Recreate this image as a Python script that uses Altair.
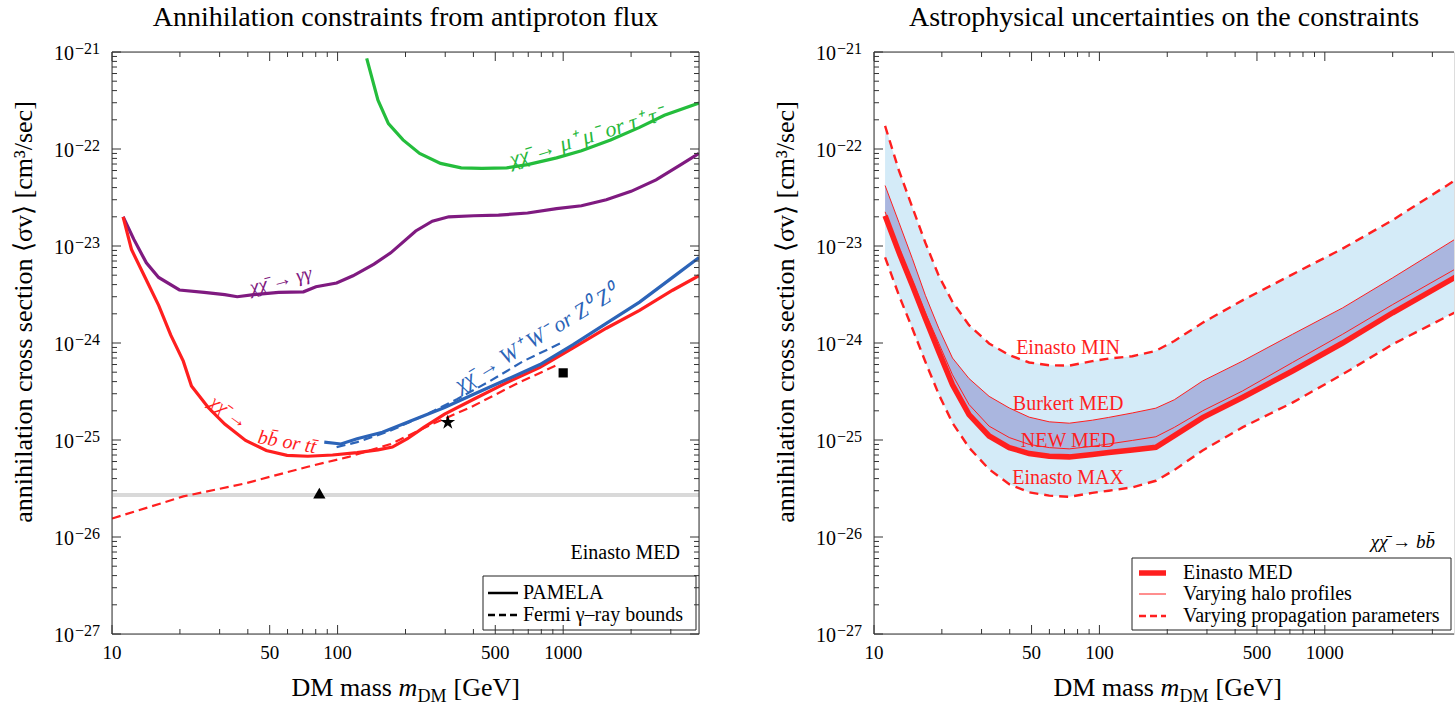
import altair as alt
import pandas as pd

FONT = "Liberation Serif"
FRAME = "#333333"
W_L, W_R, H = 587, 580, 582
XDOM_L = [10, 4000]
XDOM_R = [10, 3742]
YDOM = [1e-27, 1e-21]

# ---------------- tick positions / labels ----------------
x_major = [10, 50, 100, 500, 1000]
x_labels = ["10", "50", "100", "500", "1000"]
x_minor = [20, 30, 40, 60, 70, 80, 90, 200, 300, 400, 600, 700, 800, 900, 2000, 3000]
y_major = [1e-27, 1e-26, 1e-25, 1e-24, 1e-23, 1e-22, 1e-21]
y_exp = ["\u221227", "\u221226", "\u221225", "\u221224", "\u221223", "\u221222", "\u221221"]
y_minor = [k * 10.0 ** e for e in range(-27, -21) for k in range(2, 10)]

Y_TITLE = "annihilation cross section \u27e8\u03c3v\u27e9 [cm\u00b3/sec]"
TITLE_L = "Annihilation constraints from antiproton flux"
TITLE_R = "Astrophysical uncertainties on the constraints"

# ---------------- left panel: antiproton constraints ----------------
green_m = [134.6, 151, 168, 195, 231, 286, 353, 436, 562, 695, 935, 1205, 1622, 2180, 2810, 4000]
green_sv = [8.6e-22, 3.18e-22, 1.83e-22, 1.24e-22, 9.0e-23, 7.1e-23, 6.4e-23, 6.3e-23, 6.4e-23,
            6.9e-23, 8.1e-23, 9.6e-23, 1.24e-22, 1.67e-22, 2.23e-22, 2.98e-22]

purple_m = [11.2, 12.5, 14.2, 16.1, 19.9, 25.6, 31.6, 35.9, 42.5, 54.8, 70.6, 80.2, 99, 117, 145,
            172, 222, 263, 311, 401, 517, 695, 935, 1205, 1553, 2000, 2580, 3325, 4000]
purple_sv = [2.0e-23, 1.17e-23, 6.7e-24, 4.74e-24, 3.52e-24, 3.33e-24, 3.15e-24, 3.0e-24, 3.15e-24,
             3.33e-24, 3.37e-24, 3.8e-24, 4.15e-24, 4.93e-24, 6.5e-24, 8.5e-24, 1.43e-23, 1.8e-23,
             2.0e-23, 2.05e-23, 2.08e-23, 2.19e-23, 2.43e-23, 2.6e-23, 3.0e-23, 3.66e-23, 4.8e-23,
             6.9e-23, 9.0e-23]

red_m = [11.2, 12.2, 13.9, 16.1, 18.2, 20.7, 22.5, 26.7, 31.6, 39.1, 48.3, 59.7, 73.8, 95, 122,
         151, 175, 204, 241, 298, 401, 562, 789, 1107, 1553, 2180, 3055, 4000]
red_sv = [2.0e-23, 9.2e-24, 4.94e-24, 2.44e-24, 1.21e-24, 6.5e-25, 3.6e-25, 2.16e-25, 1.46e-25,
          9.9e-26, 7.8e-26, 6.95e-26, 6.8e-26, 7.0e-26, 7.4e-26, 7.9e-26, 8.45e-26, 1.03e-25,
          1.35e-25, 1.85e-25, 2.63e-25, 3.9e-25, 5.6e-25, 8.9e-25, 1.42e-24, 2.17e-24, 3.5e-24,
          4.94e-24]

red_fermi_m = [10, 20.7, 39.1, 73.8, 112, 172, 263, 401, 612, 950]
red_fermi_sv = [1.55e-26, 2.62e-26, 3.58e-26, 5.3e-26, 6.7e-26, 9.1e-26, 1.46e-25, 2.25e-25,
                3.74e-25, 6.0e-25]

blue_m = [87.3, 103.5, 122, 158, 212, 298, 401, 562, 789, 1107, 1553, 2180, 3055, 4000]
blue_sv = [9.5e-26, 9.1e-26, 1.03e-25, 1.2e-25, 1.58e-25, 2.16e-25, 2.96e-25, 4.2e-25, 6.0e-25,
           9.6e-25, 1.59e-24, 2.64e-24, 4.75e-24, 7.6e-24]

blue_fermi_m = [99, 122, 172, 241, 338, 474, 666, 975]
blue_fermi_sv = [8.45e-26, 9.5e-26, 1.25e-25, 1.78e-25, 2.63e-25, 4.05e-25, 6.5e-25, 9.95e-25]

thermal_m = [10, 4000]
thermal_sv = [2.58e-26, 2.85e-26]

marker_m = [83, 308, 1000]
marker_sv = [2.83e-26, 1.52e-25, 4.92e-25]

# ---------------- right panel: astrophysical uncertainties ----------------
r_m = [11.2, 12.9, 14.8, 16.9, 19.4, 22.3, 26.4, 32.4, 39.8, 48.8, 59.9, 73.5, 93, 110, 140, 178,
       215, 287, 431, 719, 1199, 2000, 3750, 4000]
ein_min = [1.73e-22, 6.0e-23, 2.5e-23, 1.08e-23, 4.9e-24, 2.65e-24, 1.53e-24, 9.9e-25, 7.5e-25,
           6.3e-25, 5.9e-25, 5.85e-25, 6.5e-25, 6.9e-25, 7.3e-25, 8.3e-25, 1.05e-24, 1.62e-24,
           2.75e-24, 5.1e-24, 9.4e-24, 1.85e-23, 4.7e-23, 5.2e-23]
burkert_med = [4.2e-23, 1.75e-23, 7.4e-24, 3.1e-24, 1.41e-24, 7.0e-25, 4.3e-25, 2.82e-25, 2.14e-25,
               1.72e-25, 1.54e-25, 1.49e-25, 1.6e-25, 1.71e-25, 1.9e-25, 2.13e-25, 2.6e-25,
               4.06e-25, 6.5e-25, 1.23e-24, 2.3e-24, 4.7e-24, 1.16e-23, 1.28e-23]
new_med = [2.25e-23, 9.5e-24, 4.42e-24, 2.05e-24, 9.9e-25, 4.7e-25, 2.32e-25, 1.39e-25, 1.06e-25,
           9.0e-26, 8.35e-26, 8.1e-26, 8.6e-26, 9.1e-26, 9.9e-26, 1.08e-25, 1.35e-25, 2.0e-25,
           3.2e-25, 6.3e-25, 1.23e-24, 2.49e-24, 5.7e-24, 6.2e-24]
ein_med = [2.05e-23, 8.6e-24, 3.93e-24, 1.79e-24, 8.1e-25, 3.7e-25, 1.83e-25, 1.1e-25, 8.35e-26,
           7.25e-26, 6.8e-26, 6.7e-26, 7.1e-26, 7.45e-26, 7.9e-26, 8.4e-26, 1.11e-25, 1.7e-25,
           2.74e-25, 5.15e-25, 1.0e-24, 2.05e-24, 4.7e-24, 5.1e-24]
ein_max = [7.65e-24, 3.1e-24, 1.41e-24, 6.4e-25, 2.94e-25, 1.5e-25, 8.35e-26, 5.0e-26, 3.5e-26,
           2.89e-26, 2.67e-26, 2.6e-26, 2.85e-26, 3.0e-26, 3.25e-26, 3.8e-26, 4.9e-26, 7.8e-26,
           1.35e-25, 2.43e-25, 4.75e-25, 9.7e-25, 2.05e-24, 2.25e-24]

# ---------------- curve labels ----------------
left_labels = [
    # text, mass, sigma v, angle, colour, size
    ("\u03c7\u03c7\u0304 \u2192 \u03bc\u207a \u03bc\u207b  or \u03c4\u207a \u03c4\u207b", 1268, 1.34e-22, 343, "#27b83c", 22),
    ("\u03c7\u03c7\u0304 \u2192 \u03b3\u03b3", 56, 4.4e-24, 346, "#7f1a80", 20),
    ("\u03c7\u03c7\u0304 \u2192 W\u207a W\u207b  or Z\u2070 Z\u2070", 757, 1.12e-24, 329, "#2c64b8", 22),
    ("\u03c7\u03c7\u0304 \u2192", 33, 1.92e-25, 36, "#ff1f1f", 20),
    ("bb\u0304 or tt\u0304", 59.7, 9.5e-26, 10, "#ff1f1f", 20),
]
right_labels = [
    ("Einasto MIN", 72.6, 8.95e-25),
    ("Burkert MED", 72.6, 2.34e-25),
    ("NEW MED", 72.6, 9.8e-26),
    ("Einasto MAX", 72.6, 4.06e-26),
]

YS = alt.Scale(type="log", domain=YDOM, nice=False)
ONE = pd.DataFrame({"k": [0]})


def xs(dom):
    return alt.Scale(type="log", domain=dom, nice=False)


def line(m, sv, dom, color, width, dash=None):
    kw = dict(color=color, strokeWidth=width, clip=True, strokeCap="butt")
    if dash:
        kw["strokeDash"] = dash
    return alt.Chart(pd.DataFrame({"m": m, "sv": sv})).mark_line(**kw).encode(
        x=alt.X("m:Q", scale=xs(dom), axis=None),
        y=alt.Y("sv:Q", scale=YS, axis=None),
    )


def vtext(text, x, y, size=20, align="left", baseline="middle", color="black", style="normal", angle=0):
    kw = dict(text=text, font=FONT, fontSize=size, align=align, baseline=baseline, color=color,
              fontStyle=style)
    if angle:
        kw["angle"] = angle
    return alt.Chart(ONE).mark_text(**kw).encode(x=alt.value(x), y=alt.value(y))


def vrule(x, x2, y, y2, color=FRAME, width=1, dash=None):
    kw = dict(color=color, strokeWidth=width)
    if dash:
        kw["strokeDash"] = dash
    enc = dict(x=alt.value(x), y=alt.value(y))
    if x2 is not None:
        enc["x2"] = alt.value(x2)
    if y2 is not None:
        enc["y2"] = alt.value(y2)
    return alt.Chart(ONE).mark_rule(**kw).encode(**enc)


def decorations(dom, w, right_frame, title_text, title_x):
    layers = []
    # x ticks (inward, bottom and top)
    for vals, ln in [(x_major, 9), (x_minor, 5)]:
        for y0, y1 in [(H, H - ln), (0, ln)]:
            layers.append(alt.Chart(pd.DataFrame({"t": vals})).mark_rule(color=FRAME).encode(
                x=alt.X("t:Q", scale=xs(dom), axis=None), y=alt.value(y0), y2=alt.value(y1)))
    # x tick labels
    layers.append(alt.Chart(pd.DataFrame({"t": x_major, "lab": x_labels})).mark_text(
        font=FONT, fontSize=19, align="center", baseline="alphabetic", color="black").encode(
        x=alt.X("t:Q", scale=xs(dom), axis=None), y=alt.value(H + 25), text="lab:N"))
    # y ticks (inward)
    sides = [(0, 1)] + ([(w, -1)] if right_frame else [])
    for vals, ln in [(y_major, 9), (y_minor, 5)]:
        for x0, sg in sides:
            layers.append(alt.Chart(pd.DataFrame({"v": vals})).mark_rule(color=FRAME).encode(
                y=alt.Y("v:Q", scale=YS, axis=None), x=alt.value(x0), x2=alt.value(x0 + sg * ln)))
    # y tick labels 10^n
    lab = pd.DataFrame({"v": y_major, "e": y_exp})
    layers.append(alt.Chart(lab).mark_text(
        text="10", font=FONT, fontSize=20, align="right", baseline="alphabetic", dy=8, color="black"
    ).encode(y=alt.Y("v:Q", scale=YS, axis=None), x=alt.value(-38)))
    layers.append(alt.Chart(lab).mark_text(
        font=FONT, fontSize=16, align="left", baseline="alphabetic", dy=2, color="black"
    ).encode(y=alt.Y("v:Q", scale=YS, axis=None), x=alt.value(-37), text="e:N"))
    # y title
    layers.append(vtext(Y_TITLE, -88, 260, size=26, align="center", angle=270))
    # panel title
    layers.append(vtext(title_text, title_x, -26, size=28, align="center", baseline="alphabetic"))
    # frame
    layers.append(vrule(0, w, 0, None))
    layers.append(vrule(0, w, H, None))
    layers.append(vrule(0, None, 0, H))
    if right_frame:
        layers.append(vrule(w, None, 0, H))
    # x axis title  DM mass m_DM [GeV]
    x0 = W_L / 2 - 114
    yb = H + 62
    layers.append(vtext("DM mass", x0, yb, size=26, baseline="alphabetic"))
    layers.append(vtext("m", x0 + 107, yb, size=26, baseline="alphabetic", style="italic"))
    layers.append(vtext("DM", x0 + 126, yb + 6, size=18, baseline="alphabetic"))
    layers.append(vtext("[GeV]", x0 + 162, yb, size=26, baseline="alphabetic"))
    return layers


# ---------------- build left panel ----------------
L = []
L.append(alt.Chart(pd.DataFrame({"x1": [thermal_m[0]], "x2": [thermal_m[1]],
                                 "y1": [thermal_sv[0]], "y2": [thermal_sv[1]]}))
         .mark_rect(color="#d9d9d9", clip=True).encode(
    x=alt.X("x1:Q", scale=xs(XDOM_L), axis=None), x2="x2:Q",
    y=alt.Y("y1:Q", scale=YS, axis=None), y2="y2:Q"))
L.append(line(red_fermi_m, red_fermi_sv, XDOM_L, "#ff1f1f", 2.2, [9, 5]))
L.append(line(green_m, green_sv, XDOM_L, "#24bd3c", 3.2))
L.append(line(purple_m, purple_sv, XDOM_L, "#7f1a80", 3.2))
L.append(line(red_m, red_sv, XDOM_L, "#ff1f1f", 3.2))
L.append(line(blue_m, blue_sv, XDOM_L, "#2c64b8", 3.2))
L.append(line(blue_fermi_m, blue_fermi_sv, XDOM_L, "#2c64b8", 2.2, [9, 5]))
star = ("M0,-1L0.2245,-0.309L0.9511,-0.309L0.3633,0.118L0.5878,0.809L0,0.382L-0.5878,0.809"
        "L-0.3633,0.118L-0.9511,-0.309L-0.2245,-0.309Z")
for i, (shape, size) in enumerate([("triangle-up", 150), (star, 240), ("square", 85)]):
    L.append(alt.Chart(pd.DataFrame({"m": [marker_m[i]], "sv": [marker_sv[i]]})).mark_point(
        shape=shape, size=size, filled=True, color="black", opacity=1).encode(
        x=alt.X("m:Q", scale=xs(XDOM_L), axis=None), y=alt.Y("sv:Q", scale=YS, axis=None)))
for t, m, sv, ang, col, fs in left_labels:
    L.append(alt.Chart(pd.DataFrame({"m": [m], "sv": [sv]})).mark_text(
        text=t, font=FONT, fontSize=fs, fontStyle="italic", color=col, angle=ang,
        align="center", baseline="middle").encode(
        x=alt.X("m:Q", scale=xs(XDOM_L), axis=None), y=alt.Y("sv:Q", scale=YS, axis=None)))
L.append(vtext("Einasto MED", 568, 501, align="right"))
# legend
L.append(alt.Chart(ONE).mark_rect(fill="white", stroke="#222222", strokeWidth=1).encode(
    x=alt.value(371), x2=alt.value(584), y=alt.value(524), y2=alt.value(578)))
L.append(vrule(376, 406, 541, None, color="black", width=2.5))
L.append(vrule(376, 406, 563, None, color="black", width=2.5, dash=[7, 4]))
L.append(vtext("PAMELA", 411, 541))
L.append(vtext("Fermi \u03b3\u2013ray bounds", 411, 563))
L += decorations(XDOM_L, W_L, True, TITLE_L, W_L / 2)

left = alt.layer(*L).properties(width=W_L, height=H)

# ---------------- build right panel ----------------
R = []
rdf = pd.DataFrame({"m": r_m, "mn": ein_min, "bk": burkert_med, "nw": new_med,
                    "md": ein_med, "mx": ein_max})
R.append(alt.Chart(rdf).mark_area(color="#d4ebf8", opacity=1, clip=True).encode(
    x=alt.X("m:Q", scale=xs(XDOM_R), axis=None),
    y=alt.Y("mn:Q", scale=YS, axis=None), y2="mx:Q"))
R.append(alt.Chart(rdf).mark_area(color="#aab6df", opacity=1, clip=True).encode(
    x=alt.X("m:Q", scale=xs(XDOM_R), axis=None),
    y=alt.Y("bk:Q", scale=YS, axis=None), y2="md:Q"))
R.append(line(r_m, ein_min, XDOM_R, "#ff1f1f", 2.4, [9, 6]))
R.append(line(r_m, ein_max, XDOM_R, "#ff1f1f", 2.4, [9, 6]))
R.append(line(r_m, burkert_med, XDOM_R, "#ff1f1f", 1.0))
R.append(line(r_m, new_med, XDOM_R, "#ff1f1f", 1.0))
R.append(line(r_m, ein_med, XDOM_R, "#ff1f1f", 5.5))
for t, m, sv in right_labels:
    R.append(alt.Chart(pd.DataFrame({"m": [m], "sv": [sv]})).mark_text(
        text=t, font=FONT, fontSize=20, color="#ff1f1f", align="center", baseline="middle").encode(
        x=alt.X("m:Q", scale=xs(XDOM_R), axis=None), y=alt.Y("sv:Q", scale=YS, axis=None)))
R.append(vtext("\u03c7\u03c7\u0304 \u2192 bb\u0304", 561, 490, size=19, align="right", style="italic"))
# legend
R.append(alt.Chart(ONE).mark_rect(fill="white", stroke="#222222", strokeWidth=1).encode(
    x=alt.value(258), x2=alt.value(577), y=alt.value(506), y2=alt.value(578)))
R.append(vrule(265, 292, 521, None, color="#ff1f1f", width=5.5))
R.append(vrule(265, 292, 542, None, color="#ff1f1f", width=1))
R.append(vrule(265, 292, 564, None, color="#ff1f1f", width=2.5, dash=[7, 4]))
R.append(vtext("Einasto MED", 309, 521))
R.append(vtext("Varying halo profiles", 309, 542))
R.append(vtext("Varying propagation parameters", 309, 564))
R += decorations(XDOM_R, W_R, False, TITLE_R, 290)

right = alt.layer(*R).properties(width=W_R, height=H)

chart = alt.hconcat(left, right, spacing=175, bounds="flush",
                    padding={"left": 10, "top": 3, "right": 0, "bottom": 0}).configure_view(
    stroke="transparent").configure(background="white")

chart.save("out.html", embed_options={"renderer": "svg", "actions": False})
